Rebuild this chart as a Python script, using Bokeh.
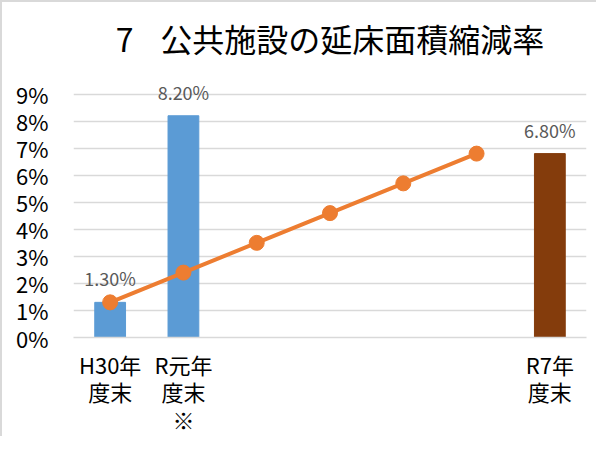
from bokeh.plotting import figure
from bokeh.models import ColumnDataSource, Range1d, FixedTicker, LabelSet, Title
from bokeh.core.properties import value
from bokeh.embed import file_html
from bokeh.resources import INLINE

# ---- data ----
categories = ["H30年度末", "R元年度末", "R2年度末", "R3年度末", "R4年度末", "R5年度末", "R7年度末"]
tick_labels = {0: "H30年\n度末", 1: "R元年\n度末\n※", 6: "R7年\n度末"}
bar_values = [1.3, 8.2, None, None, None, None, 6.8]
bar_colors = ["#5B9BD5", "#5B9BD5", None, None, None, None, "#843C0C"]
line_values = [1.3, 2.4, 3.5, 4.6, 5.7, 6.8, None]
y_ticks = [0, 1, 2, 3, 4, 5, 6, 7, 8, 9]

FONT = "Noto Sans CJK JP"

bar_idx = [i for i, v in enumerate(bar_values) if v is not None]
bar_src = ColumnDataSource(dict(
    x=bar_idx,
    top=[bar_values[i] for i in bar_idx],
    color=[bar_colors[i] for i in bar_idx],
    label=[f"{bar_values[i]:.2f}%" for i in bar_idx],
))
line_idx = [i for i, v in enumerate(line_values) if v is not None]
line_src = ColumnDataSource(dict(x=line_idx, y=[line_values[i] for i in line_idx]))

p = figure(width=596, height=436, output_backend="svg", toolbar_location=None,
           x_range=Range1d(-0.5, len(categories) - 0.5), y_range=Range1d(0, 9.8),
           min_border_left=71, min_border_right=12, min_border_top=70, min_border_bottom=94,
           styles={"border-left": "2px solid #d9d9d9", "border-top": "2px solid #d9d9d9"})
p.title = Title(text="7\u2002\u2004公共施設の延床面積縮減率", align="center",
                vertical_align="middle",
                text_font=FONT, text_font_size="32px", text_font_style="normal",
                text_color="#000000", offset=-18, standoff=21)

p.outline_line_color = None
p.background_fill_color = "white"
p.border_fill_color = "white"

p.vbar(x="x", top="top", width=0.42, color="color", source=bar_src)
p.line(x="x", y="y", source=line_src, line_color="#ED7D31", line_width=4)
p.scatter(x="x", y="y", source=line_src, size=15, fill_color="#ED7D31", line_color="#ED7D31")

labels = LabelSet(x="x", y="top", text="label", source=bar_src, text_align="center",
                  text_baseline="middle", y_offset=24, text_font=value(FONT),
                  text_font_size=value("18px"), text_color="#595959")
p.add_layout(labels)

# axes
p.xaxis.ticker = FixedTicker(ticks=list(tick_labels.keys()))
p.xaxis.major_label_overrides = tick_labels
p.xaxis.major_tick_line_color = None
p.xaxis.minor_tick_line_color = None
p.xaxis.axis_line_color = "#D9D9D9"
p.xaxis.axis_line_width = 1.5
p.xaxis.major_label_standoff = 4
p.xaxis.major_label_text_line_height = 0.87
p.xaxis.major_label_text_font = FONT
p.xaxis.major_label_text_font_size = "22px"
p.xaxis.major_label_text_color = "#000000"

p.yaxis.ticker = FixedTicker(ticks=y_ticks)
p.yaxis.major_label_overrides = {t: f"{t}%" for t in y_ticks}
p.yaxis.major_tick_line_color = None
p.yaxis.minor_tick_line_color = None
p.yaxis.axis_line_color = None
p.yaxis.major_label_standoff = 19
p.yaxis.major_label_text_font = FONT
p.yaxis.major_label_text_font_size = "22px"
p.yaxis.major_label_text_color = "#000000"

p.xgrid.grid_line_color = None
p.ygrid.grid_line_color = "#D9D9D9"
p.ygrid.grid_line_width = 1.5

open("out.html", "w").write(file_html(p, INLINE))
